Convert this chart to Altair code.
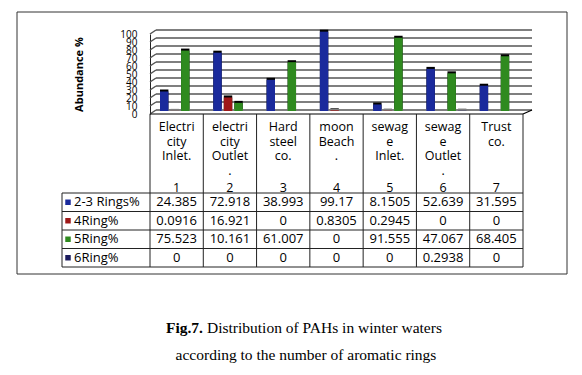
import altair as alt
import pandas as pd

# ---------------- data ----------------
categories = ["Electricity Inlet.", "electricity Outlet.", "Hard steel co.", "moon Beach.",
              "sewage Inlet.", "sewage Outlet.", "Trust co."]
cat_lines = ["Electri\ncity\nInlet.", "electri\ncity\nOutlet\n.", "Hard\nsteel\nco.", "moon\nBeach\n.",
             "sewag\ne\nInlet.", "sewag\ne\nOutlet\n.", "Trust\nco."]
cat_numbers = ["1", "2", "3", "4", "5", "6", "7"]
series = ["2-3 Rings%", "4Ring%", "5Ring%", "6Ring%"]
ring23 = [24.385, 72.918, 38.993, 99.17, 8.1505, 52.639, 31.595]
ring4 = [0.0916, 16.921, 0, 0.8305, 0.2945, 0, 0]
ring5 = [75.523, 10.161, 61.007, 0, 91.555, 47.067, 68.405]
ring6 = [0, 0, 0, 0, 0, 0.2938, 0]
colors = ["#1a2a9c", "#9e1818", "#2f8a1f", "#1b1b5e"]
ticks = [0, 10, 20, 30, 40, 50, 60, 70, 80, 90, 100]
y_title = "Abundance %"
caption_bold = "Fig.7."
caption_1 = "Distribution of PAHs in winter waters"
caption_2 = "according to the number of aromatic rings"

rows = []
for s, vals in zip(series, [ring23, ring4, ring5, ring6]):
    for c, v in zip(categories, vals):
        rows.append({"cat": c, "series": s, "value": v, "label": f"{v:g}"})
df = pd.DataFrame(rows)
cat_df = pd.DataFrame({"cat": categories, "lines": cat_lines, "num": cat_numbers})
tick_df = pd.DataFrame({"tick": ticks})
series_df = pd.DataFrame({"series": series})
one = pd.DataFrame({"a": [0]})

FONT = "Open Sans"

xscale = alt.Scale(domain=categories, range=[142, 515], paddingInner=0, paddingOuter=0)
yscale = alt.Scale(domain=[0, 100], range=[106, 26], nice=False, zero=True)
rscale = alt.Scale(domain=series, range=[185, 259], paddingInner=0, paddingOuter=0)
cscale = alt.Scale(domain=series, range=colors)

yaxis = alt.Axis(title=y_title, values=ticks, offset=-142, ticks=False, grid=False,
                 domainColor="#222", domainWidth=1, labelFont=FONT, labelFontSize=10,
                 labelOverlap=False, labelPadding=13, labelColor="#000",
                 titleFont=FONT, titleFontSize=11,
                 titleFontWeight="bold", titlePadding=35, titleColor="#000")

X = alt.X("cat:N", scale=xscale, axis=None, sort=categories)

# ---------------- bar region ----------------
GRID = "#555"
grid_h = alt.Chart(tick_df).mark_rule(color=GRID, strokeWidth=1.5, yOffset=-4).encode(
    y=alt.Y("tick:Q", scale=yscale, axis=yaxis),
    x=alt.value(148), x2=alt.value(524))
grid_s = alt.Chart(tick_df).mark_rule(color=GRID, strokeWidth=1.5, y2Offset=-4).encode(
    y=alt.Y("tick:Q", scale=yscale, axis=yaxis), y2="tick:Q",
    x=alt.value(142), x2=alt.value(148))

XO = alt.XOffset("series:N", sort=series,
                 scale=alt.Scale(domain=series, range=[10, 50], paddingInner=0.2, paddingOuter=0))
shadow = alt.Chart(df).mark_bar(color="#000", xOffset=3, yOffset=-5).encode(
    x=X, xOffset=XO, y=alt.Y("value:Q", scale=yscale, axis=yaxis))
bars = alt.Chart(df).mark_bar(yOffset=-3).encode(
    x=X, xOffset=XO, y=alt.Y("value:Q", scale=yscale, axis=yaxis),
    color=alt.Color("series:N", scale=cscale, legend=None))
floor = alt.Chart(one).mark_rule(color="#000", strokeWidth=1.2).encode(
    x=alt.value(142), x2=alt.value(515), y=alt.value(106))
floor_r = alt.Chart(one).mark_rule(color="#000", strokeWidth=1.2).encode(
    x=alt.value(515), x2=alt.value(524), y=alt.value(106), y2=alt.value(102))

bar_group = alt.layer(grid_h, grid_s, shadow, bars)

# ---------------- table ----------------
R = alt.Y("series:N", scale=rscale, axis=None, sort=series)
vlines = alt.Chart(cat_df).mark_rule(color="#222").encode(
    x=alt.X("cat:N", scale=xscale, axis=None, sort=categories, bandPosition=0),
    y=alt.value(106), y2=alt.value(259))
vline_last = alt.Chart(cat_df.tail(1)).mark_rule(color="#222").encode(
    x=alt.X("cat:N", scale=xscale, axis=None, sort=categories, bandPosition=1),
    y=alt.value(106), y2=alt.value(259))
vline_left = alt.Chart(one).mark_rule(color="#222").encode(
    x=alt.value(54), y=alt.value(185), y2=alt.value(259))
hlines = alt.Chart(series_df).mark_rule(color="#222").encode(
    y=alt.Y("series:N", scale=rscale, axis=None, sort=series, bandPosition=0),
    x=alt.value(54), x2=alt.value(515))
hline_last = alt.Chart(series_df.tail(1)).mark_rule(color="#222").encode(
    y=alt.Y("series:N", scale=rscale, axis=None, sort=series, bandPosition=1),
    x=alt.value(54), x2=alt.value(515))
cells = alt.Chart(df).mark_text(font=FONT, fontSize=13, color="#000").encode(
    x=X, y=R, text="label:N")
row_names = alt.Chart(series_df).mark_text(font=FONT, fontSize=13, align="left", color="#000").encode(
    x=alt.value(66), y=R, text="series:N")
squares = alt.Chart(series_df).mark_square(size=30, opacity=1).encode(
    x=alt.value(60), y=R, color=alt.Color("series:N", scale=cscale, legend=None))
header = alt.Chart(cat_df).mark_text(font=FONT, fontSize=12.5, lineBreak="\n", lineHeight=14.5,
                                     baseline="top", color="#000").encode(
    x=X, y=alt.value(113), text="lines:N")
nums = alt.Chart(cat_df).mark_text(font=FONT, fontSize=12.5, color="#000").encode(
    x=X, y=alt.value(180), text="num:N")

table_group = alt.layer(vlines, vline_last, vline_left, hlines, hline_last,
                        cells, row_names, squares)

# ---------------- frame and caption ----------------
frame = alt.Chart(one).mark_rect(fill=None, stroke="#333", strokeWidth=1).encode(
    x=alt.value(9), x2=alt.value(559), y=alt.value(4), y2=alt.value(266))
cap_b = alt.Chart(one).mark_text(text=caption_bold, font="Liberation Serif", fontSize=15.5,
                                 fontWeight="bold", align="right", color="#000").encode(
    x=alt.value(195), y=alt.value(320))
cap_1 = alt.Chart(one).mark_text(text=caption_1, font="Liberation Serif", fontSize=15.5,
                                 align="left", color="#000").encode(
    x=alt.value(199), y=alt.value(320))
cap_2 = alt.Chart(one).mark_text(text=caption_2, font="Liberation Serif", fontSize=15.5,
                                 align="center", color="#000").encode(
    x=alt.value(298), y=alt.value(347))

chart = alt.layer(
    frame, bar_group, floor, floor_r, table_group, header, nums, cap_b, cap_1, cap_2
).resolve_scale(y="independent").properties(
    width=566, height=359, autosize=alt.AutoSizeParams(type="none"), padding=0,
    background="white"
).configure_view(stroke=None)

chart.save("out.html", embed_options={"renderer": "svg", "actions": False})
